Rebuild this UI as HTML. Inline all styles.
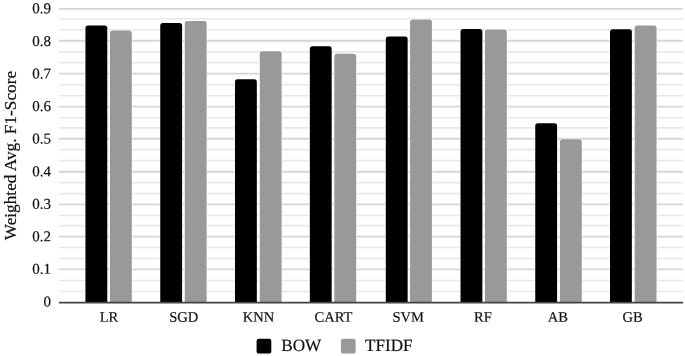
<!DOCTYPE html>
<html lang="en"><head><meta charset="utf-8"><title>Weighted Avg. F1-Score</title>
<style>
html,body{margin:0;padding:0;background:#fff;}
body{width:685px;height:356px;overflow:hidden;}
svg{display:block;}
text{font-family:"Liberation Serif","Times New Roman",Times,serif;fill:#111;stroke:#111;stroke-width:0.2px;}
.tick{font-size:15px;}
.xl{font-size:14.55px;}
.leg{font-size:17.15px;}
.title{font-size:17.25px;}
</style></head><body>
<svg width="685" height="356" viewBox="0 0 685 356">
<rect x="0" y="0" width="685" height="356" fill="#ffffff"/>

<line x1="59.0" x2="683.0" y1="291.55" y2="291.55" stroke="#e8e8e8" stroke-width="1.6"/>
<line x1="59.0" x2="683.0" y1="280.55" y2="280.55" stroke="#e8e8e8" stroke-width="1.6"/>
<line x1="59.0" x2="683.0" y1="269.45" y2="269.45" stroke="#d6d6d6" stroke-width="1.8"/>
<line x1="59.0" x2="683.0" y1="258.55" y2="258.55" stroke="#e8e8e8" stroke-width="1.6"/>
<line x1="59.0" x2="683.0" y1="247.45" y2="247.45" stroke="#e8e8e8" stroke-width="1.6"/>
<line x1="59.0" x2="683.0" y1="236.55" y2="236.55" stroke="#d6d6d6" stroke-width="1.8"/>
<line x1="59.0" x2="683.0" y1="225.65" y2="225.65" stroke="#e8e8e8" stroke-width="1.6"/>
<line x1="59.0" x2="683.0" y1="215.50" y2="215.50" stroke="#e8e8e8" stroke-width="1.6"/>
<line x1="59.0" x2="683.0" y1="204.45" y2="204.45" stroke="#d6d6d6" stroke-width="1.8"/>
<line x1="59.0" x2="683.0" y1="193.65" y2="193.65" stroke="#e8e8e8" stroke-width="1.6"/>
<line x1="59.0" x2="683.0" y1="182.65" y2="182.65" stroke="#e8e8e8" stroke-width="1.6"/>
<line x1="59.0" x2="683.0" y1="171.75" y2="171.75" stroke="#d6d6d6" stroke-width="1.8"/>
<line x1="59.0" x2="683.0" y1="160.65" y2="160.65" stroke="#e8e8e8" stroke-width="1.6"/>
<line x1="59.0" x2="683.0" y1="149.60" y2="149.60" stroke="#e8e8e8" stroke-width="1.6"/>
<line x1="59.0" x2="683.0" y1="138.75" y2="138.75" stroke="#d6d6d6" stroke-width="1.8"/>
<line x1="59.0" x2="683.0" y1="127.90" y2="127.90" stroke="#e8e8e8" stroke-width="1.6"/>
<line x1="59.0" x2="683.0" y1="117.80" y2="117.80" stroke="#e8e8e8" stroke-width="1.6"/>
<line x1="59.0" x2="683.0" y1="106.65" y2="106.65" stroke="#d6d6d6" stroke-width="1.8"/>
<line x1="59.0" x2="683.0" y1="95.75" y2="95.75" stroke="#e8e8e8" stroke-width="1.6"/>
<line x1="59.0" x2="683.0" y1="84.75" y2="84.75" stroke="#e8e8e8" stroke-width="1.6"/>
<line x1="59.0" x2="683.0" y1="73.70" y2="73.70" stroke="#d6d6d6" stroke-width="1.8"/>
<line x1="59.0" x2="683.0" y1="62.65" y2="62.65" stroke="#e8e8e8" stroke-width="1.6"/>
<line x1="59.0" x2="683.0" y1="51.90" y2="51.90" stroke="#e8e8e8" stroke-width="1.6"/>
<line x1="59.0" x2="683.0" y1="40.75" y2="40.75" stroke="#d6d6d6" stroke-width="1.8"/>
<line x1="59.0" x2="683.0" y1="29.75" y2="29.75" stroke="#e8e8e8" stroke-width="1.6"/>
<line x1="59.0" x2="683.0" y1="18.75" y2="18.75" stroke="#e8e8e8" stroke-width="1.6"/>
<line x1="59.0" x2="683.0" y1="8.90" y2="8.90" stroke="#d6d6d6" stroke-width="1.8"/>
<path d="M85.43,302.50 L85.43,28.00 A2.5,2.5 0 0 1 87.93,25.50 L104.78,25.50 A2.5,2.5 0 0 1 107.28,28.00 L107.28,302.50 Z" fill="#000000" stroke="#ffffff" stroke-width="1.1" paint-order="stroke"/>
<path d="M109.95,302.50 L109.95,33.10 A2.5,2.5 0 0 1 112.45,30.60 L129.30,30.60 A2.5,2.5 0 0 1 131.80,33.10 L131.80,302.50 Z" fill="#999999" stroke="#ffffff" stroke-width="1.1" paint-order="stroke"/>
<path d="M160.25,302.50 L160.25,25.60 A2.5,2.5 0 0 1 162.75,23.10 L179.60,23.10 A2.5,2.5 0 0 1 182.10,25.60 L182.10,302.50 Z" fill="#000000" stroke="#ffffff" stroke-width="1.1" paint-order="stroke"/>
<path d="M184.78,302.50 L184.78,23.40 A2.5,2.5 0 0 1 187.28,20.90 L204.13,20.90 A2.5,2.5 0 0 1 206.63,23.40 L206.63,302.50 Z" fill="#999999" stroke="#ffffff" stroke-width="1.1" paint-order="stroke"/>
<path d="M234.99,302.50 L234.99,81.80 A2.5,2.5 0 0 1 237.49,79.30 L254.34,79.30 A2.5,2.5 0 0 1 256.84,81.80 L256.84,302.50 Z" fill="#000000" stroke="#ffffff" stroke-width="1.1" paint-order="stroke"/>
<path d="M259.78,302.50 L259.78,53.70 A2.5,2.5 0 0 1 262.28,51.20 L279.13,51.20 A2.5,2.5 0 0 1 281.63,53.70 L281.63,302.50 Z" fill="#999999" stroke="#ffffff" stroke-width="1.1" paint-order="stroke"/>
<path d="M309.82,302.50 L309.82,48.70 A2.5,2.5 0 0 1 312.32,46.20 L329.17,46.20 A2.5,2.5 0 0 1 331.67,48.70 L331.67,302.50 Z" fill="#000000" stroke="#ffffff" stroke-width="1.1" paint-order="stroke"/>
<path d="M334.34,302.50 L334.34,56.30 A2.5,2.5 0 0 1 336.84,53.80 L353.69,53.80 A2.5,2.5 0 0 1 356.19,56.30 L356.19,302.50 Z" fill="#999999" stroke="#ffffff" stroke-width="1.1" paint-order="stroke"/>
<path d="M385.80,302.50 L385.80,39.00 A2.5,2.5 0 0 1 388.30,36.50 L405.15,36.50 A2.5,2.5 0 0 1 407.65,39.00 L407.65,302.50 Z" fill="#000000" stroke="#ffffff" stroke-width="1.1" paint-order="stroke"/>
<path d="M410.04,302.50 L410.04,21.90 A2.5,2.5 0 0 1 412.54,19.40 L429.39,19.40 A2.5,2.5 0 0 1 431.89,21.90 L431.89,302.50 Z" fill="#999999" stroke="#ffffff" stroke-width="1.1" paint-order="stroke"/>
<path d="M460.52,302.50 L460.52,31.60 A2.5,2.5 0 0 1 463.02,29.10 L479.87,29.10 A2.5,2.5 0 0 1 482.37,31.60 L482.37,302.50 Z" fill="#000000" stroke="#ffffff" stroke-width="1.1" paint-order="stroke"/>
<path d="M484.95,302.50 L484.95,32.00 A2.5,2.5 0 0 1 487.45,29.50 L504.30,29.50 A2.5,2.5 0 0 1 506.80,32.00 L506.80,302.50 Z" fill="#999999" stroke="#ffffff" stroke-width="1.1" paint-order="stroke"/>
<path d="M535.25,302.50 L535.25,125.80 A2.5,2.5 0 0 1 537.75,123.30 L554.60,123.30 A2.5,2.5 0 0 1 557.10,125.80 L557.10,302.50 Z" fill="#000000" stroke="#ffffff" stroke-width="1.1" paint-order="stroke"/>
<path d="M559.95,302.50 L559.95,141.80 A2.5,2.5 0 0 1 562.45,139.30 L579.30,139.30 A2.5,2.5 0 0 1 581.80,141.80 L581.80,302.50 Z" fill="#999999" stroke="#ffffff" stroke-width="1.1" paint-order="stroke"/>
<path d="M610.00,302.50 L610.00,31.70 A2.5,2.5 0 0 1 612.50,29.20 L629.35,29.20 A2.5,2.5 0 0 1 631.85,31.70 L631.85,302.50 Z" fill="#000000" stroke="#ffffff" stroke-width="1.1" paint-order="stroke"/>
<path d="M634.70,302.50 L634.70,28.00 A2.5,2.5 0 0 1 637.20,25.50 L654.05,25.50 A2.5,2.5 0 0 1 656.55,28.00 L656.55,302.50 Z" fill="#999999" stroke="#ffffff" stroke-width="1.1" paint-order="stroke"/>
<line x1="59.0" x2="683.0" y1="302.6" y2="302.6" stroke="#444444" stroke-width="1.6"/>
<text class="tick" transform="translate(51.0,306.40) rotate(0.03)" text-anchor="end">0</text>
<text class="tick" transform="translate(51.0,273.84) rotate(0.03)" text-anchor="end">0.1</text>
<text class="tick" transform="translate(51.0,241.28) rotate(0.03)" text-anchor="end">0.2</text>
<text class="tick" transform="translate(51.0,208.72) rotate(0.03)" text-anchor="end">0.3</text>
<text class="tick" transform="translate(51.0,176.16) rotate(0.03)" text-anchor="end">0.4</text>
<text class="tick" transform="translate(51.0,143.60) rotate(0.03)" text-anchor="end">0.5</text>
<text class="tick" transform="translate(51.0,111.04) rotate(0.03)" text-anchor="end">0.6</text>
<text class="tick" transform="translate(51.0,78.48) rotate(0.03)" text-anchor="end">0.7</text>
<text class="tick" transform="translate(51.0,45.92) rotate(0.03)" text-anchor="end">0.8</text>
<text class="tick" transform="translate(51.0,13.36) rotate(0.03)" text-anchor="end">0.9</text>
<text class="xl" transform="translate(109.00,321.7) rotate(0.03)" text-anchor="middle">LR</text>
<text class="xl" transform="translate(183.80,321.7) rotate(0.03)" text-anchor="middle">SGD</text>
<text class="xl" transform="translate(258.60,321.7) rotate(0.03)" text-anchor="middle">KNN</text>
<text class="xl" transform="translate(333.40,321.7) rotate(0.03)" text-anchor="middle">CART</text>
<text class="xl" transform="translate(408.20,321.7) rotate(0.03)" text-anchor="middle">SVM</text>
<text class="xl" transform="translate(483.00,321.7) rotate(0.03)" text-anchor="middle">RF</text>
<text class="xl" transform="translate(557.80,321.7) rotate(0.03)" text-anchor="middle">AB</text>
<text class="xl" transform="translate(632.60,321.7) rotate(0.03)" text-anchor="middle">GB</text>
<text class="title" transform="translate(16.4,155.6) rotate(-90)" text-anchor="middle">Weighted Avg. F1-Score</text>
<rect x="256.6" y="338.8" width="14.7" height="14.8" rx="2.2" ry="2.2" fill="#000000"/>
<text class="leg" transform="translate(281.2,351) rotate(0.03)">BOW</text>
<rect x="340.9" y="338.8" width="14.7" height="14.8" rx="2.2" ry="2.2" fill="#999999"/>
<text class="leg" transform="translate(365.0,351) rotate(0.03)">TFIDF</text>
</svg></body></html>
